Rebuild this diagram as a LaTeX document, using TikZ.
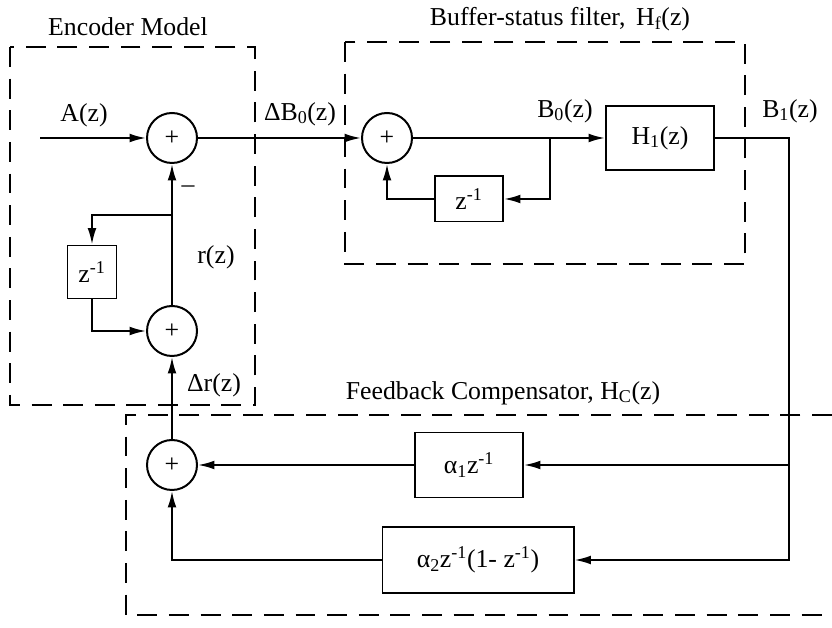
\documentclass[tikz,border=0pt]{standalone}
\usepackage{fontspec}
\setmainfont{Liberation Serif}
\usepackage{tikz}
\usetikzlibrary{arrows.meta,positioning}
\newcommand{\zinv}{z\textsuperscript{-1}}

\begin{document}
\begin{tikzpicture}[x=0.03cm, y=-0.03cm,
    every node/.style={font=\fontsize{22}{26}\selectfont},
    sumnode/.style={draw, circle, line width=1.7pt, minimum size=1.5cm, inner sep=0pt},
    blk/.style={draw, rectangle, line width=1.7pt, inner sep=0pt},
    wire/.style={line width=1.7pt},
    arr/.style={wire, -{Latex[length=14pt,width=7.5pt]}},
    groupbox/.style={line width=1.8pt, dash pattern=on 17pt off 10pt}]
    \useasboundingbox (0,0) rectangle (832,628);

    % Group frames
    \draw[groupbox] (10,47) rectangle (255,405);
    \draw[groupbox] (345,42) rectangle (745,264);
    \draw[groupbox] (832,415) -- (126,415) -- (126,615) -- (832,615);

    % Group titles
    \node (encname) at (128,27) {Encoder Model};
    \node (bufname) at (560,19) {Buffer-status filter,\, H\textsubscript{f}(z)};
    \node (fbname) at (503,393) {Feedback Compensator, H\textsubscript{C}(z)};

    % Summing junctions
    \node[sumnode] (sumA) at (172,138) {+};
    \node[sumnode] (sumR) at (172,331) {+};
    \node[sumnode] (sumC) at (172,465) {+};
    \node[sumnode] (sumB) at (387,138) {+};

    % Blocks
    \node[blk, minimum width=1.47cm, minimum height=1.59cm] (zenc) at (92,272) {\zinv};
    \node[blk, minimum width=2.04cm, minimum height=1.35cm] (zbuf) at (469,199) {\zinv};
    \node[blk, minimum width=3.24cm, minimum height=1.92cm] (hone) at (660,138) {H\textsubscript{1}(z)};
    \node[blk, minimum width=3.24cm, minimum height=1.95cm] (alphaone) at (469,465) {α\textsubscript{1}\zinv};
    \node[blk, minimum width=5.73cm, minimum height=1.98cm] (alphatwo) at (478,560) {α\textsubscript{2}\zinv(1- \zinv)};

    % Branch points
    \coordinate (in) at (40,138);
    \coordinate (rtap) at (172,215);
    \coordinate (btap) at (550,138);
    \coordinate (otap) at (789,138);

    % Signal labels
    \node (alab) at (84,115) {A(z)};
    \node (dblab) at (300,114) {ΔB\textsubscript{0}(z)};
    \node (bzlab) at (565,111) {B\textsubscript{0}(z)};
    \node (bolab) at (790,111) {B\textsubscript{1}(z)};
    \node (rlab) at (216,257) {r(z)};
    \node (drlab) at (214,385) {Δr(z)};
    \node (minus) at (188,189) {--};

    % Encoder model
    \draw[arr] (in) -- (sumA);
    \draw[arr] (sumR) -- (sumA);
    \draw[arr] (rtap) -| (zenc.north);
    \draw[arr] (zenc.south) |- (sumR.west);
    \draw[arr] (sumC) -- (sumR);

    % Buffer-status filter
    \draw[arr] (sumA) -- (sumB);
    \draw[arr] (sumB) -- (hone);
    \draw[arr] (btap) |- (zbuf.east);
    \draw[arr] (zbuf.west) -| (sumB.south);

    % Feedback compensator
    \draw[arr] (hone.east) -- (otap) |- (alphatwo.east);
    \draw[arr] (otap |- alphaone.east) -- (alphaone.east);
    \draw[arr] (alphaone) -- (sumC);
    \draw[arr] (alphatwo.west) -| (sumC.south);

\end{tikzpicture}
\end{document}
